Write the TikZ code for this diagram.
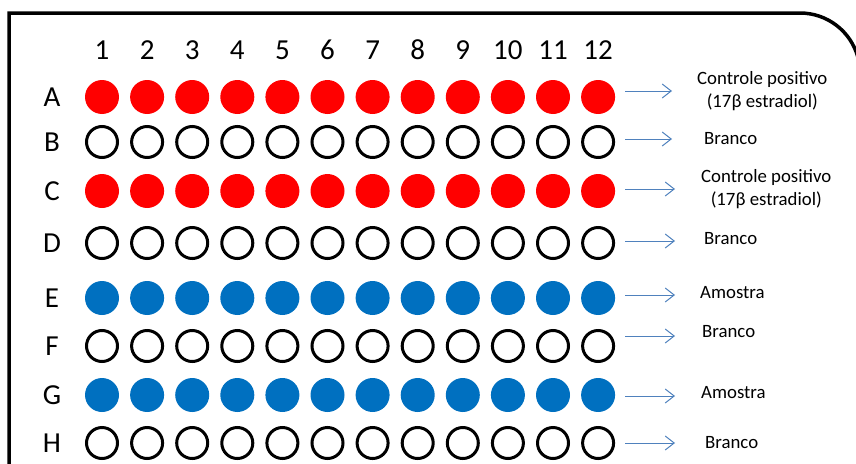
\documentclass[tikz,border=0pt]{standalone}
\usepackage{fontspec}
\setmainfont{Carlito}
\usetikzlibrary{arrows.meta}
\definecolor{well-red}{HTML}{FF0000}
\definecolor{well-blue}{HTML}{0070C0}
\definecolor{arrow-blue}{HTML}{4F81BD}

\begin{document}
\begin{tikzpicture}[x=1pt, y=-1pt,
        full/.style={circle, inner sep=0pt, minimum size=34pt},
        redwell/.style={full, fill=well-red},
        bluewell/.style={full, fill=well-blue},
        emptywell/.style={circle, inner sep=0pt, minimum size=31pt,
                          draw=black, line width=3pt},
        colnum/.style={font=\fontsize{29}{29}\selectfont},
        rowlab/.style={font=\fontsize{29}{29}\selectfont},
        lab/.style={anchor=west, align=center, inner sep=0pt,
                    font=\fontsize{18.8}{23}\selectfont},
        arr/.style={-{Straight Barb[length=9pt, width=14pt]},
                    line width=1pt, arrow-blue, shorten <=10pt}]
        \useasboundingbox (0,0) rectangle (856,463);
        % plate outline
        \draw[line width=3.5pt] (9,470) -- (9,13) -- (800,13)
              arc[start angle=-90, end angle=-15, radius=60];
        % column numbers
        \foreach \c in {1,...,12}
          \node[colnum] (n\c) at ({102+45.1*(\c-1)}, 50) {\c};
        % rows of wells
        \foreach \r/\y/\kind in {A/97/redwell, B/142/emptywell, C/191/redwell,
                                 D/243/emptywell, E/298/bluewell, F/346/emptywell,
                                 G/395/bluewell, H/443/emptywell} {
          \node[rowlab] (l\r) at (52, \y) {\r};
          \foreach \c in {1,...,12}
            \node[\kind] (w\r\c) at ({102+45.1*(\c-1)}, \y) {};
        }
        % legend
        \node[lab] (dA) at (697, 91) {Controle positivo\\(17β estradiol)};
        \node[lab] (dB) at (704, 139) {Branco};
        \node[lab] (dC) at (701, 189) {Controle positivo\\(17β estradiol)};
        \node[lab] (dD) at (704, 239) {Branco};
        \node[lab] (dE) at (700, 293) {Amostra};
        \node[lab] (dF) at (702, 332) {Branco};
        \node[lab] (dG) at (701, 393) {Amostra};
        \node[lab] (dH) at (705, 443) {Branco};
        \coordinate (tA) at (672, 91);
        \coordinate (tB) at (672, 139);
        \coordinate (tC) at (675, 189);
        \coordinate (tD) at (675, 241);
        \coordinate (tE) at (675, 295);
        \coordinate (tF) at (675, 336);
        \coordinate (tG) at (675, 396);
        \coordinate (tH) at (675, 443);
        \draw[arr] (wA12.east |- tA) -- (tA);
        \draw[arr] (wB12.east |- tB) -- (tB);
        \draw[arr] (wC12.east |- tC) -- (tC);
        \draw[arr] (wD12.east |- tD) -- (tD);
        \draw[arr] (wE12.east |- tE) -- (tE);
        \draw[arr] (wF12.east |- tF) -- (tF);
        \draw[arr] (wG12.east |- tG) -- (tG);
        \draw[arr] (wH12.east |- tH) -- (tH);
\end{tikzpicture}
\end{document}
